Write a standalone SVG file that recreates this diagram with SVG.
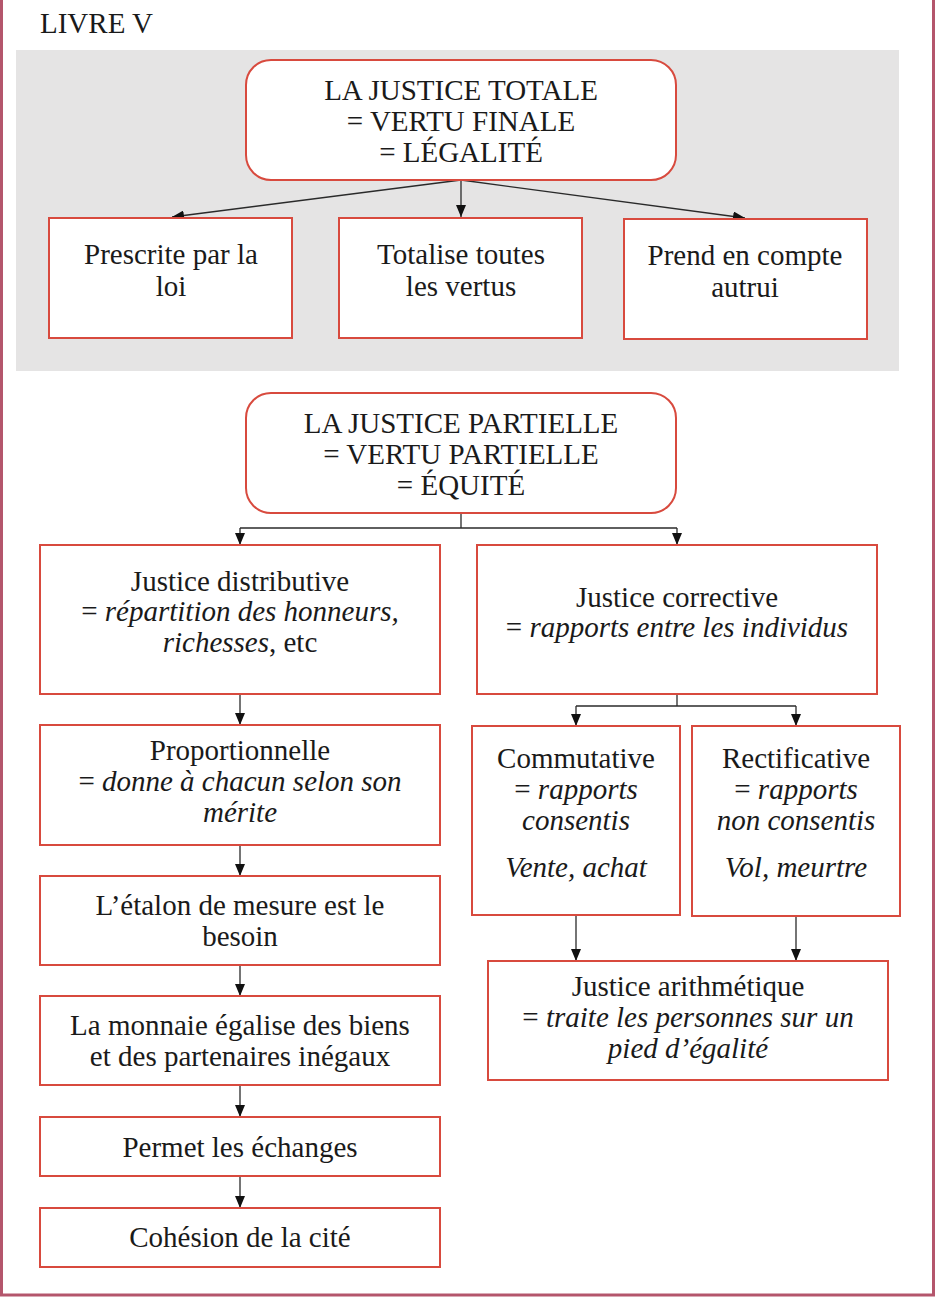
<svg xmlns="http://www.w3.org/2000/svg" width="936" height="1297" viewBox="0 0 936 1297">
<style>
.t{font-family:'Liberation Serif','Times New Roman',serif;font-size:29px;fill:#1a1a1a;text-anchor:middle}
.i{font-style:italic}
.box{fill:#ffffff;stroke:#d84a3e;stroke-width:2}
.c{fill:none;stroke:#2a2a2a;stroke-width:1.3}
</style>
<defs>
<marker id="ah" viewBox="0 0 12 10" refX="12" refY="5" markerWidth="12" markerHeight="10" markerUnits="userSpaceOnUse" orient="auto">
<path d="M0,0 L12,5 L0,10 z" fill="#111"/>
</marker>
</defs>
<rect x="0" y="0" width="936" height="1297" fill="#ffffff"/>
<rect x="1.5" y="-10" width="932" height="1305" fill="none" stroke="#b4566c" stroke-width="3"/>
<rect x="16" y="50" width="883" height="321" fill="#e5e4e4"/>
<text class="t" x="40" y="33" style="text-anchor:start">LIVRE V</text>

<g id="connectors">
<path class="c" d="M461,180 L172,217" marker-end="url(#ah)"/>
<path class="c" d="M461,180 L461,217" marker-end="url(#ah)"/>
<path class="c" d="M461,180 L745,218" marker-end="url(#ah)"/>
<path class="c" d="M461,513 L461,528"/>
<path class="c" d="M240,528 L677,528"/>
<path class="c" d="M240,528 L240,545" marker-end="url(#ah)"/>
<path class="c" d="M677,528 L677,545" marker-end="url(#ah)"/>
<path class="c" d="M240,694 L240,725" marker-end="url(#ah)"/>
<path class="c" d="M240,845 L240,876" marker-end="url(#ah)"/>
<path class="c" d="M240,965 L240,996" marker-end="url(#ah)"/>
<path class="c" d="M240,1085 L240,1117" marker-end="url(#ah)"/>
<path class="c" d="M240,1176 L240,1208" marker-end="url(#ah)"/>
<path class="c" d="M677,694 L677,706"/>
<path class="c" d="M576,706 L796,706"/>
<path class="c" d="M576,706 L576,726" marker-end="url(#ah)"/>
<path class="c" d="M796,706 L796,726" marker-end="url(#ah)"/>
<path class="c" d="M576,915 L576,961" marker-end="url(#ah)"/>
<path class="c" d="M796,916 L796,961" marker-end="url(#ah)"/>
</g>

<g id="totale">
<rect class="box" x="246" y="60" width="430" height="120" rx="25"/>
<text class="t" x="461" y="100">LA JUSTICE TOTALE</text>
<text class="t" x="461" y="131">= VERTU FINALE</text>
<text class="t" x="461" y="162">= LÉGALITÉ</text>
</g>
<g id="prescrite">
<rect class="box" x="49" y="218" width="243" height="120"/>
<text class="t" x="171" y="264">Prescrite par la</text>
<text class="t" x="171" y="296">loi</text>
</g>
<g id="totalise">
<rect class="box" x="339" y="218" width="243" height="120"/>
<text class="t" x="461" y="264">Totalise toutes</text>
<text class="t" x="461" y="296">les vertus</text>
</g>
<g id="autrui">
<rect class="box" x="624" y="219" width="243" height="120"/>
<text class="t" x="745" y="265">Prend en compte</text>
<text class="t" x="745" y="297">autrui</text>
</g>

<g id="partielle">
<rect class="box" x="246" y="393" width="430" height="120" rx="25"/>
<text class="t" x="461" y="433">LA JUSTICE PARTIELLE</text>
<text class="t" x="461" y="464">= VERTU PARTIELLE</text>
<text class="t" x="461" y="495">= ÉQUITÉ</text>
</g>
<g id="distributive">
<rect class="box" x="40" y="545" width="400" height="149"/>
<text class="t" x="240" y="591">Justice distributive</text>
<text class="t" x="240" y="621">= <tspan class="i">répartition des honneurs,</tspan></text>
<text class="t" x="240" y="652"><tspan class="i">richesses</tspan>, etc</text>
</g>
<g id="corrective">
<rect class="box" x="477" y="545" width="400" height="149"/>
<text class="t" x="677" y="607">Justice corrective</text>
<text class="t" x="677" y="637">= <tspan class="i">rapports entre les individus</tspan></text>
</g>
<g id="proportionnelle">
<rect class="box" x="40" y="725" width="400" height="120"/>
<text class="t" x="240" y="760">Proportionnelle</text>
<text class="t" x="240" y="791">= <tspan class="i">donne à chacun selon son</tspan></text>
<text class="t i" x="240" y="822">mérite</text>
</g>
<g id="etalon">
<rect class="box" x="40" y="876" width="400" height="89"/>
<text class="t" x="240" y="915">L’étalon de mesure est le</text>
<text class="t" x="240" y="946">besoin</text>
</g>
<g id="monnaie">
<rect class="box" x="40" y="996" width="400" height="89"/>
<text class="t" x="240" y="1035">La monnaie égalise des biens</text>
<text class="t" x="240" y="1066">et des partenaires inégaux</text>
</g>
<g id="echanges">
<rect class="box" x="40" y="1117" width="400" height="59"/>
<text class="t" x="240" y="1157">Permet les échanges</text>
</g>
<g id="cohesion">
<rect class="box" x="40" y="1208" width="400" height="59"/>
<text class="t" x="240" y="1247">Cohésion de la cité</text>
</g>
<g id="commutative">
<rect class="box" x="472" y="726" width="208" height="189"/>
<text class="t" x="576" y="768">Commutative</text>
<text class="t" x="576" y="799">= <tspan class="i">rapports</tspan></text>
<text class="t i" x="576" y="830">consentis</text>
<text class="t i" x="576" y="877">Vente, achat</text>
</g>
<g id="rectificative">
<rect class="box" x="692" y="726" width="208" height="190"/>
<text class="t" x="796" y="768">Rectificative</text>
<text class="t" x="796" y="799">= <tspan class="i">rapports</tspan></text>
<text class="t i" x="796" y="830">non consentis</text>
<text class="t i" x="796" y="877">Vol, meurtre</text>
</g>
<g id="arithmetique">
<rect class="box" x="488" y="961" width="400" height="119"/>
<text class="t" x="688" y="996">Justice arithmétique</text>
<text class="t" x="688" y="1027">= <tspan class="i">traite les personnes sur un</tspan></text>
<text class="t i" x="688" y="1058">pied d’égalité</text>
</g>
</svg>
